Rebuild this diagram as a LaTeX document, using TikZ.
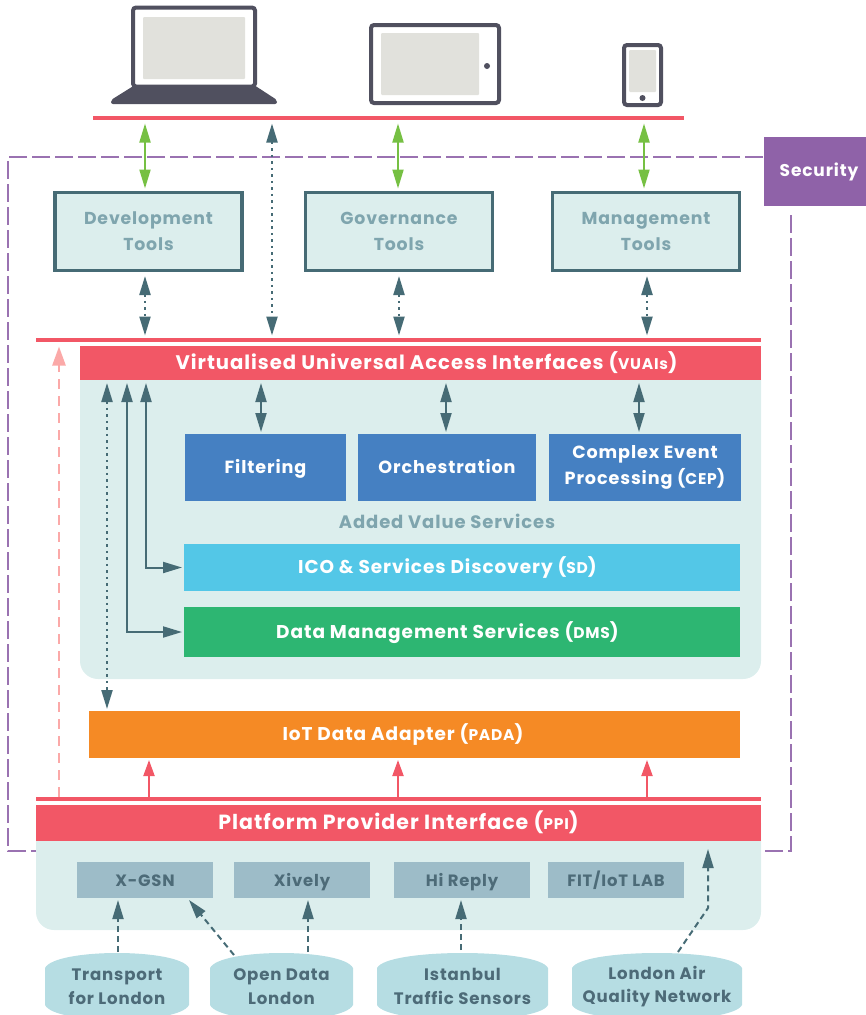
\documentclass[tikz,border=0pt]{standalone}
\usepackage{fontspec}
\usepackage{tikz}
\usetikzlibrary{arrows.meta}
\setmainfont[LetterSpace=5]{Poppins}
\newcommand{\abbr}[1]{{\fontsize{15.5}{15.5}\selectfont #1}}

\definecolor{railred}{HTML}{F25766}
\definecolor{slate}{HTML}{466B75}
\definecolor{paleteal}{HTML}{DCEEED}
\definecolor{toolgrey}{HTML}{7FA5AE}
\definecolor{devdark}{HTML}{50505F}
\definecolor{devgrey}{HTML}{E1E1DC}
\definecolor{secpurple}{HTML}{8F62A8}
\definecolor{linkgreen}{HTML}{76C043}
\definecolor{svcblue}{HTML}{4580C2}
\definecolor{sdblue}{HTML}{53C7E7}
\definecolor{dmsgreen}{HTML}{2DB672}
\definecolor{padaorange}{HTML}{F58A25}
\definecolor{provgrey}{HTML}{9DBCC8}
\definecolor{provtext}{HTML}{4D6B78}
\definecolor{sourceteal}{HTML}{B6DDE3}
\definecolor{pinkline}{HTML}{FBA9A8}

\tikzset{
  every node/.style={execute at begin node=\bfseries},
  box/.style={rectangle,inner sep=0pt,outer sep=0pt,align=center,text=white,font=\fontsize{17.6}{26}\selectfont},
  single/.style={text height=14pt,text depth=2pt},
  rail/.style={box,fill=railred,minimum height=4pt},
  frame/.style={box,draw=devdark,fill=white,line width=4pt,rounded corners=3pt},
  glass/.style={box,fill=devgrey,rounded corners=1pt},
  tool/.style={box,draw=slate,fill=paleteal,line width=3.5pt,minimum width=187pt,minimum height=78pt,text=toolgrey,font=\fontsize{17.3}{26}\selectfont},
  panel/.style={box,fill=paleteal,rounded corners=18pt},
  bar/.style={box,single,font=\fontsize{19.6}{26}\selectfont},
  wide/.style={box,single,font=\fontsize{18.5}{26}\selectfont},
  service/.style={box,fill=svcblue,minimum height=67pt},
  provider/.style={box,single,fill=provgrey,minimum width=136pt,minimum height=36pt,text=provtext,font=\fontsize{16.4}{24}\selectfont},
  source/.style={box,minimum height=79pt,text=provtext,font=\fontsize{16.6}{23.5}\selectfont,
    path picture={\fill[sourceteal]
      ([yshift=-20pt]path picture bounding box.north west)
      .. controls ([xshift=10pt]path picture bounding box.north west) and ([xshift=-10pt]path picture bounding box.north east)
      .. ([yshift=-20pt]path picture bounding box.north east)
      -- ([yshift=20pt]path picture bounding box.south east)
      .. controls ([xshift=-10pt]path picture bounding box.south east) and ([xshift=10pt]path picture bounding box.south west)
      .. ([yshift=20pt]path picture bounding box.south west) -- cycle;}},
  secline/.style={secpurple!90!white,line width=2.2pt,dash pattern=on 18pt off 5pt},
  link/.style={{Triangle[length=19pt,width=11pt]}-{Triangle[length=19pt,width=11pt]},line width=2pt,slate},
  green link/.style={link,linkgreen},
  dotted link/.style={link,dash pattern=on 2.5pt off 4pt,line width=2.2pt},
  up link/.style={-{Triangle[length=19pt,width=11pt]},line width=2pt,slate},
  feed/.style={up link,dash pattern=on 6pt off 4pt},
  red link/.style={-{Triangle[length=16pt,width=11pt]},line width=2pt,railred}
}

\begin{document}
\begin{tikzpicture}
  \useasboundingbox (0pt,0pt) rectangle (866pt,-1015pt);
  % devices
  \draw (194pt,-47pt)node[frame,minimum width=122pt,minimum height=79pt](laptop){};
  \draw (194pt,-48pt)node[glass,minimum width=102pt,minimum height=62pt](laptopglass){};
  \fill[devdark,rounded corners=2pt] (111pt,-104pt) -- (111pt,-100pt) -- (135pt,-85pt) -- (254pt,-85pt) -- (277pt,-100pt) -- (277pt,-104pt) -- cycle;
  \draw (435pt,-64pt)node[frame,minimum width=128pt,minimum height=78pt](tablet){};
  \draw (430pt,-64pt)node[glass,minimum width=98pt,minimum height=62pt](tabletglass){};
  \draw (487pt,-66pt)node[circle,fill=devdark,minimum size=6pt,inner sep=0pt](tabletdot){};
  \draw (642.5pt,-75pt)node[frame,minimum width=37pt,minimum height=60pt](phone){};
  \draw (642.5pt,-71pt)node[glass,minimum width=27pt,minimum height=42pt](phoneglass){};
  \draw (642.5pt,-98pt)node[circle,fill=devdark,minimum size=6pt,inner sep=0pt](phonedot){};
  \draw (388.5pt,-117.5pt)node[rail,minimum width=591pt](toprail){};

  % security boundary
  \coordinate (secnw) at (8pt,-157pt);
  \coordinate (secsw) at (8pt,-851pt);
  \coordinate (secse) at (791pt,-851pt);
  \coordinate (secne) at (791pt,-215pt);
  \draw[secline] (763pt,-157pt) -- (secnw) -- (secsw) -- (36pt,-851pt);
  \draw[secline] (secne) -- (secse) -- (762pt,-851pt);
  \draw (815pt,-171.5pt)node[box,fill=secpurple,minimum width=102pt,minimum height=69pt,font=\fontsize{17}{26}\selectfont](security){\hspace*{8pt}Security};

  % tools
  \draw (148.5pt,-231.5pt)node[tool](development){Development\\Tools};
  \draw (399pt,-231.5pt)node[tool](governance){Governance\\Tools};
  \draw (646pt,-231.5pt)node[tool](management){Management\\Tools};
  \draw (398.5pt,-339.5pt)node[rail,minimum width=725pt](midrail){};

  % access layer
  \draw (420.5pt,-512.5pt)node[panel,minimum width=681pt,minimum height=333pt](accesspanel){};
  \draw (420.5pt,-363pt)node[bar,fill=railred,minimum width=681pt,minimum height=34pt](vuai){\hspace*{12pt}Virtualised Universal Access Interfaces (\abbr{VUAIs})};
  \draw (265.5pt,-467.5pt)node[service,single,minimum width=161pt](filtering){Filtering};
  \draw (447pt,-467.5pt)node[service,single,minimum width=178pt](orchestration){Orchestration};
  \draw (645pt,-467.5pt)node[service,minimum width=192pt](cep){Complex Event\\Processing (\abbr{CEP})};
  \draw (447pt,-522pt)node[box,single,text=toolgrey,font=\fontsize{18}{24}\selectfont](addedvalue){Added Value Services};
  \draw (462pt,-567.5pt)node[wide,fill=sdblue,minimum width=556pt,minimum height=47pt](sd){ICO \& Services Discovery (\abbr{SD})\hspace*{29pt}};
  \draw (462pt,-632pt)node[wide,fill=dmsgreen,minimum width=556pt,minimum height=50pt](dms){Data Management Services (\abbr{DMS})\hspace*{29pt}};
  \draw (414.5pt,-734.5pt)node[wide,fill=padaorange,minimum width=651pt,minimum height=47pt](pada){IoT Data Adapter (\abbr{PADA})\hspace*{23pt}};

  % provider layer
  \draw (398.5pt,-799pt)node[rail,minimum width=725pt](lowrail){};
  \draw (398.5pt,-867.5pt)node[panel,minimum width=725pt,minimum height=125pt](providerpanel){};
  \draw (398.5pt,-823pt)node[bar,fill=railred,minimum width=725pt,minimum height=36pt,font=\fontsize{20.5}{26}\selectfont](ppi){Platform Provider Interface (\abbr{PPI})};
  \draw (145pt,-880pt)node[provider](xgsn){X-GSN};
  \draw (302pt,-880pt)node[provider](xively){Xively};
  \draw (462pt,-880pt)node[provider](hireply){Hi Reply};
  \draw (616pt,-880pt)node[provider](fitiot){FIT/IoT LAB};

  % data sources
  \draw (117pt,-986.5pt)node[source,minimum width=144pt,minimum height=77pt](transport){Transport\\for London};
  \draw (281.5pt,-986.5pt)node[source,minimum width=143pt,minimum height=77pt](opendata){Open Data\\London};
  \draw (462.5pt,-986.5pt)node[source,minimum width=171pt,minimum height=77pt](istanbul){Istanbul\\Traffic Sensors};
  \draw (657pt,-986.5pt)node[source,minimum width=170pt,minimum height=77pt](airquality){London Air\\Quality Network};

  % links
  \coordinate (greena) at (145pt,-119.5pt);
  \coordinate (dota) at (272pt,-119.5pt);
  \coordinate (greenb) at (398pt,-119.5pt);
  \coordinate (greenc) at (644pt,-119.5pt);
  \draw[green link,shorten <=4pt,shorten >=4pt] (greena) -- (greena |- development.north);
  \draw[dotted link,shorten <=4pt,shorten >=2pt] (dota) -- (dota |- midrail.north);
  \draw[green link,shorten <=4pt,shorten >=4pt] (greenb) -- (greenb |- governance.north);
  \draw[green link,shorten <=4pt,shorten >=4pt] (greenc) -- (greenc |- management.north);
  \coordinate (toola) at (145pt,-272pt);
  \coordinate (toolb) at (399pt,-272pt);
  \coordinate (toolc) at (647pt,-272pt);
  \draw[dotted link,shorten <=4pt,shorten >=2pt] (toola) -- (toola |- midrail.north);
  \draw[dotted link,shorten <=4pt,shorten >=2pt] (toolb) -- (toolb |- midrail.north);
  \draw[dotted link,shorten <=4pt,shorten >=2pt] (toolc) -- (toolc |- midrail.north);
  \coordinate (vuaia) at (261pt,-380pt);
  \coordinate (vuaib) at (446pt,-380pt);
  \coordinate (vuaic) at (639pt,-380pt);
  \draw[link,shorten <=3pt,shorten >=2pt] (vuaia) -- (vuaia |- filtering.north);
  \draw[link,shorten <=3pt,shorten >=2pt] (vuaib) -- (vuaib |- orchestration.north);
  \draw[link,shorten <=3pt,shorten >=2pt] (vuaic) -- (vuaic |- cep.north);
  \coordinate (padalink) at (107pt,-380pt);
  \coordinate (dmslink) at (127pt,-380pt);
  \coordinate (sdlink) at (146pt,-380pt);
  \draw[dotted link,shorten <=3pt,shorten >=2pt] (padalink) -- (padalink |- pada.north);
  \draw[link,shorten <=3pt,shorten >=2pt] (dmslink) |- (dms.west);
  \draw[link,shorten <=3pt,shorten >=2pt] (sdlink) |- (sd.west);
  \coordinate (pinklink) at (59pt,-797pt);
  \draw[-{Triangle[length=19pt,width=13pt]},line width=2.4pt,pinkline,dash pattern=on 10pt off 7pt,shorten >=5pt] (pinklink) -- (pinklink |- midrail.south);
  \coordinate (reda) at (149pt,-797pt);
  \coordinate (redb) at (398pt,-797pt);
  \coordinate (redc) at (647pt,-797pt);
  \draw[red link,shorten >=2pt] (reda) -- (reda |- pada.south);
  \draw[red link,shorten >=2pt] (redb) -- (redb |- pada.south);
  \draw[red link,shorten >=2pt] (redc) -- (redc |- pada.south);
  \coordinate (feeda) at (118pt,-952pt);
  \coordinate (feedb) at (234pt,-955pt);
  \coordinate (feedc) at (308pt,-952pt);
  \coordinate (feedd) at (461pt,-950pt);
  \coordinate (feede) at (678pt,-952pt);
  \coordinate (feedbend) at (708pt,-908pt);
  \coordinate (feedtop) at (708pt,-849pt);
  \coordinate (feedhit) at (189pt,-900pt);
  \draw[feed,shorten >=2pt] (feeda) -- (feeda |- xgsn.south);
  \draw[feed] (feedb) -- (feedhit);
  \draw[feed,shorten >=2pt] (feedc) -- (feedc |- xively.south);
  \draw[feed,shorten >=2pt] (feedd) -- (feedd |- hireply.south);
  \draw[feed] (feede) -- (feedbend) -- (feedtop);
\end{tikzpicture}
\end{document}
